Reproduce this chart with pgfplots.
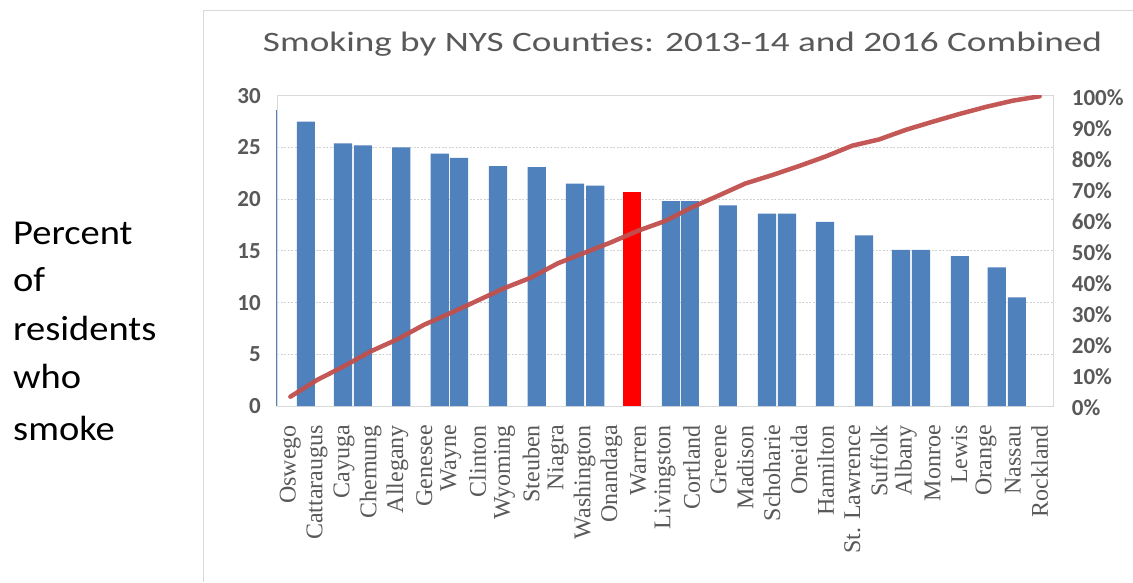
\documentclass[border=0pt]{standalone}
\usepackage{pgfplots}
\pgfplotsset{compat=1.18}
\usepackage{fontspec}
\setmainfont{Carlito}
\newfontfamily\labserif{Liberation Serif}
\definecolor{barblue}{RGB}{79,129,189}
\definecolor{linered}{RGB}{192,80,77}
\definecolor{tickgray}{RGB}{89,89,89}
\definecolor{gridgray}{RGB}{210,210,210}
\definecolor{framegray}{RGB}{217,217,217}
\begin{document}
\begin{tikzpicture}
\path[use as bounding box] (0,0) rectangle (1133pt,582pt);
\fill[white] (0,0) rectangle (1133pt,582pt);
\draw[framegray, line width=1pt] (203pt,0pt) -- (203pt,571pt) -- (1133pt,571pt);
% left text
\foreach \t/\yy in {Percent/337, of/290.3, residents/242, who/194, smoke/141.3}{
  \node[anchor=base west, inner sep=0pt] at (13pt,\yy pt) {\scalebox{1.1}[1]{\fontsize{35}{35}\selectfont \t}};
}
% title
\node[anchor=base, inner sep=0pt, text=tickgray] at (682.5pt,530pt)
  {\resizebox{839pt}{19.5pt}{\fontsize{26}{26}\selectfont Smoking by NYS Counties: 2013-14 and 2016 Combined}};
\begin{axis}[
  at={(277pt,176pt)}, anchor=south west,
  scale only axis, width=776pt, height=310.3pt,
  xmin=-0.5, xmax=28.5, ymin=0, ymax=30,
  clip=false,
  ytick={0,5,...,30},
  xtick={0,...,28},
  xticklabels={Oswego,Cattaraugus,Cayuga,Chemung,Allegany,Genesee,Wayne,Clinton,Wyoming,Steuben,Niagra,Washington,Onandaga,Warren,Livingston,Cortland,Greene,Madison,Schoharie,Oneida,Hamilton,St. Lawrence,Suffolk,Albany,Monroe,Lewis,Orange,Nassau,Rockland},
  major tick length=0pt,
  ymajorgrids,
  major grid style={gridgray, line width=0.8pt, dash pattern=on 2pt off 1.5pt},
  axis line style={framegray, line width=1pt},
  /pgf/number format/assume math mode=true,
  yticklabel style={font=\fontsize{23}{23}\selectfont\bfseries, text=tickgray, anchor=east, inner sep=0pt, xshift=-16pt},
  xticklabel style={font=\labserif\fontsize{24}{24}\selectfont, text=tickgray, rotate=90, anchor=east, inner sep=0pt},
  xticklabel shift=19pt,
]
\addplot[ybar, bar shift=0pt, bar width=0.06, fill=barblue, draw=none] coordinates {(-0.52,28.6)};
\addplot[ybar, bar shift=0pt, bar width=0.68, fill=barblue, draw=none] coordinates {
(0.58,27.5) (1.97,25.4) (2.71,25.2) (4.14,25.0) (5.58,24.4) (6.30,24.0)
(7.76,23.2) (9.21,23.1) (10.64,21.5) (11.39,21.3)
(14.22,19.8) (14.93,19.8) (16.35,19.4) (17.81,18.6) (18.56,18.6) (19.98,17.8)
(21.44,16.5) (22.82,15.1) (23.57,15.1) (25.02,14.5) (26.40,13.4) (27.15,10.5)};
\addplot[ybar, bar shift=0pt, bar width=0.68, fill=red, draw=none] coordinates {(12.76,20.7)};
\end{axis}
\begin{axis}[
  at={(277pt,176pt)}, anchor=south west,
  scale only axis, width=776pt, height=310.3pt,
  xmin=-0.5, xmax=28.5, ymin=0, ymax=100,
  axis x line=none,
  axis y line*=right,
  axis line style={draw=none},
  ytick={0,10,...,100},
  major tick length=0pt,
  yticklabel={\pgfmathprintnumber{\tick}\%},
  /pgf/number format/assume math mode=true,
  yticklabel style={font=\fontsize{23}{23}\selectfont\bfseries, text=tickgray, anchor=west, inner sep=0pt, xshift=18.7pt, yshift=-2pt},
]
\addplot[linered, line width=4.5pt, line cap=round, line join=round, opacity=0.95] coordinates {
(0,3.0) (1,8.4) (2,12.8) (3,17.6) (4,21.5) (5,26.2) (6,30.0) (7,34.0) (8,38.0) (9,41.4)
(10,46.0) (11,49.4) (12,52.8) (13,56.5) (14,59.6) (15,64.0) (16,67.8) (17,71.7) (18,74.4)
(19,77.3) (20,80.4) (21,83.9) (22,85.9) (23,89.0) (24,91.6) (25,94.1) (26,96.4) (27,98.4) (28,99.8)};
\end{axis}
\end{tikzpicture}
\end{document}
